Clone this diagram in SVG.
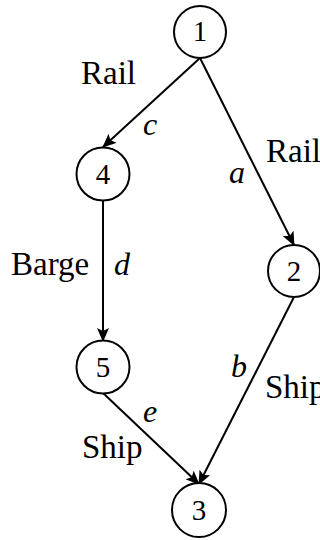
<svg xmlns="http://www.w3.org/2000/svg" width="320" height="540" viewBox="0 0 320 540" font-family="Liberation Serif, DejaVu Serif, serif">
<style>
.n circle{fill:#fff;stroke:#000;stroke-width:2}
.n text{font-size:29px;text-anchor:middle;fill:#000}
.e line{stroke:#000;stroke-width:2}
.lbl{font-size:33px;fill:#000}
.it{font-size:32px;font-style:italic;fill:#000}
</style>
<defs>
<marker id="arr" markerUnits="userSpaceOnUse" markerWidth="14" markerHeight="12" viewBox="0 0 14 12" refX="13" refY="6" orient="auto">
<path d="M0,0 L14,6 L0,12 L3,6 z" fill="#000"/>
</marker>
</defs>
<g id="edges" class="e">
<line id="e14" x1="200" y1="58" x2="103" y2="147" marker-end="url(#arr)"/>
<line id="e12" x1="200" y1="58" x2="294" y2="245" marker-end="url(#arr)"/>
<line id="e45" x1="103" y1="200" x2="103" y2="341" marker-end="url(#arr)"/>
<line id="e53" x1="103" y1="393" x2="199" y2="484" marker-end="url(#arr)"/>
<line id="e23" x1="294" y1="297" x2="199" y2="484" marker-end="url(#arr)"/>
</g>
<g id="node1" class="n"><circle cx="200" cy="32" r="26"/><text x="200" y="41" font-family="Liberation Serif">1</text></g>
<g id="node4" class="n"><circle cx="103" cy="174" r="26.5"/><text x="103" y="184" font-family="Liberation Serif">4</text></g>
<g id="node2" class="n"><circle cx="294" cy="271" r="26"/><text x="294" y="281" font-family="Liberation Serif">2</text></g>
<g id="node5" class="n"><circle cx="103" cy="367" r="26.5"/><text x="103" y="377" font-family="Liberation Serif">5</text></g>
<g id="node3" class="n"><circle cx="199" cy="510" r="27"/><text x="199" y="520" font-family="Liberation Serif">3</text></g>
<g id="labels" font-family="Liberation Serif">
<text class="lbl" x="81" y="84">Rail</text>
<text class="it" x="143" y="135">c</text>
<text class="lbl" x="266" y="162">Rail</text>
<text class="it" x="229" y="183">a</text>
<text class="lbl" x="11" y="275">Barge</text>
<text class="it" x="114" y="275">d</text>
<text class="it" x="231" y="377">b</text>
<text class="lbl" x="265" y="398">Ship</text>
<text class="it" x="143" y="422">e</text>
<text class="lbl" x="82" y="458">Ship</text>
</g>
</svg>
